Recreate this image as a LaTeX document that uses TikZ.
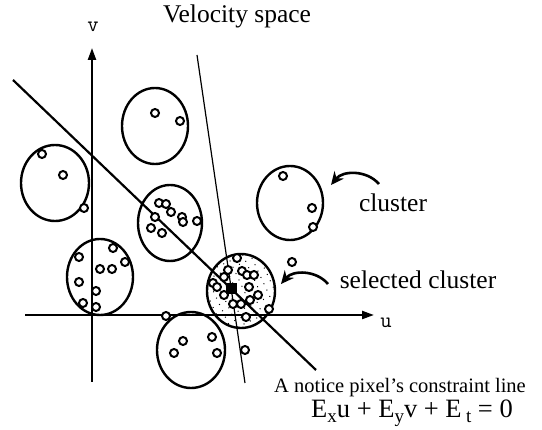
\documentclass[tikz,border=0pt]{standalone}
\usepackage{fontspec}
\setmainfont{Liberation Serif}
\usetikzlibrary{shapes.geometric,arrows.meta,patterns.meta}

\newcommand{\lowsub}[1]{\raisebox{-0.4ex}{\fontsize{19}{19}\selectfont #1}}

\begin{document}
\begin{tikzpicture}[x=1pt,y=-1pt,
  clus/.style={draw,ellipse,line width=2.4pt,inner sep=0pt,minimum width=66pt,minimum height=76pt},
  smallpt/.style={line width=2pt,fill=white},
  axis/.style={line width=2.2pt,-{Triangle[length=12pt,width=8pt]}},
  bigtxt/.style={font=\fontsize{25.5}{30}\selectfont},
  curvarrow/.style={line width=2.6pt,-{Stealth[length=13pt,width=12pt]}}]
  \useasboundingbox (0,0) rectangle (542,430);
  % clusters in velocity space
  \node[clus] (clustop) at (155,126) {};
  \node[clus,minimum width=68pt] (clusleft) at (55,183) {};
  \node[clus,minimum width=64pt] (clusmid) at (170,223) {};
  \node[clus] (cluslow) at (100,277) {};
  \node[clus,minimum height=74pt] (clusright) at (290,203) {};
  \node[clus,minimum width=68pt] (clusbot) at (191,350) {};
  \node[clus,minimum width=68pt,minimum height=74pt,
        pattern={Dots[distance=7pt,radius=0.7pt,angle=25]}] (clussel) at (241,291) {};
  % constraint lines
  \coordinate (cline1) at (13,80);
  \coordinate (cline2) at (316,370);
  \coordinate (tline1) at (197,55);
  \coordinate (tline2) at (245,383);
  \draw[line width=2.2pt] (cline1) -- (cline2);
  \draw[line width=1.2pt] (tline1) -- (tline2);
  % axes
  \coordinate (vbot) at (92,382);
  \coordinate (vtop) at (92,48);
  \coordinate (uleft) at (25,315);
  \coordinate (uright) at (374,315);
  \draw[axis] (vbot) -- (vtop);
  \draw[axis] (uleft) -- (uright);
  \node[font=\ttfamily\fontsize{22}{24}\selectfont] (vlbl) at (93,27) {v};
  \node[font=\ttfamily\fontsize{22}{24}\selectfont] (ulbl) at (386,323) {u};
  % sample points
  \foreach \px/\py in {155/113,180/121, 42/154,63/175,84/208,
      159/203,166/204,171/212,155/217,182/217,183/222,197/221,151/228,162/233,
      113/248,79/257,125/262,100/269,112/269,79/282,96/291,83/303,96/307,
      283/176,312/208,313/227,
      237/258,228/270,242/271,247/275,254/275,224/277,213/283,217/287,249/287,
      224/295,258/295,250/300,233/304,241/304,246/317,269/309,
      183/341,174/353,212/337,217/353,
      166/316,245/350,292/262}
    \draw[smallpt] (\px,\py) circle[radius=4pt];
  \node[fill,minimum size=11pt,inner sep=0pt] (selpt) at (231,289) {};
  % labels
  \node[bigtxt] (title) at (237,16) {Velocity space};
  \node[bigtxt] (lblclus) at (393,203) {cluster};
  \node[bigtxt] (lblsel) at (418,280) {selected cluster};
  \node[font=\fontsize{20.5}{24}\selectfont] (lblline) at (400,388) {A notice pixel's constraint line};
  \node[font=\fontsize{26.5}{30}\selectfont] (lbleq) at (412,413)
       {E\lowsub{x}u + E\lowsub{y}v + E\,\lowsub{t} = 0};
  \coordinate (clstart) at (379,184);
  \coordinate (clstip) at (331,185);
  \coordinate (selstart) at (328,284);
  \coordinate (seltip) at (281,284);
  \draw[curvarrow] (clstart) to[bend right=50] (clstip);
  \draw[curvarrow] (selstart) to[bend right=50] (seltip);
\end{tikzpicture}
\end{document}
